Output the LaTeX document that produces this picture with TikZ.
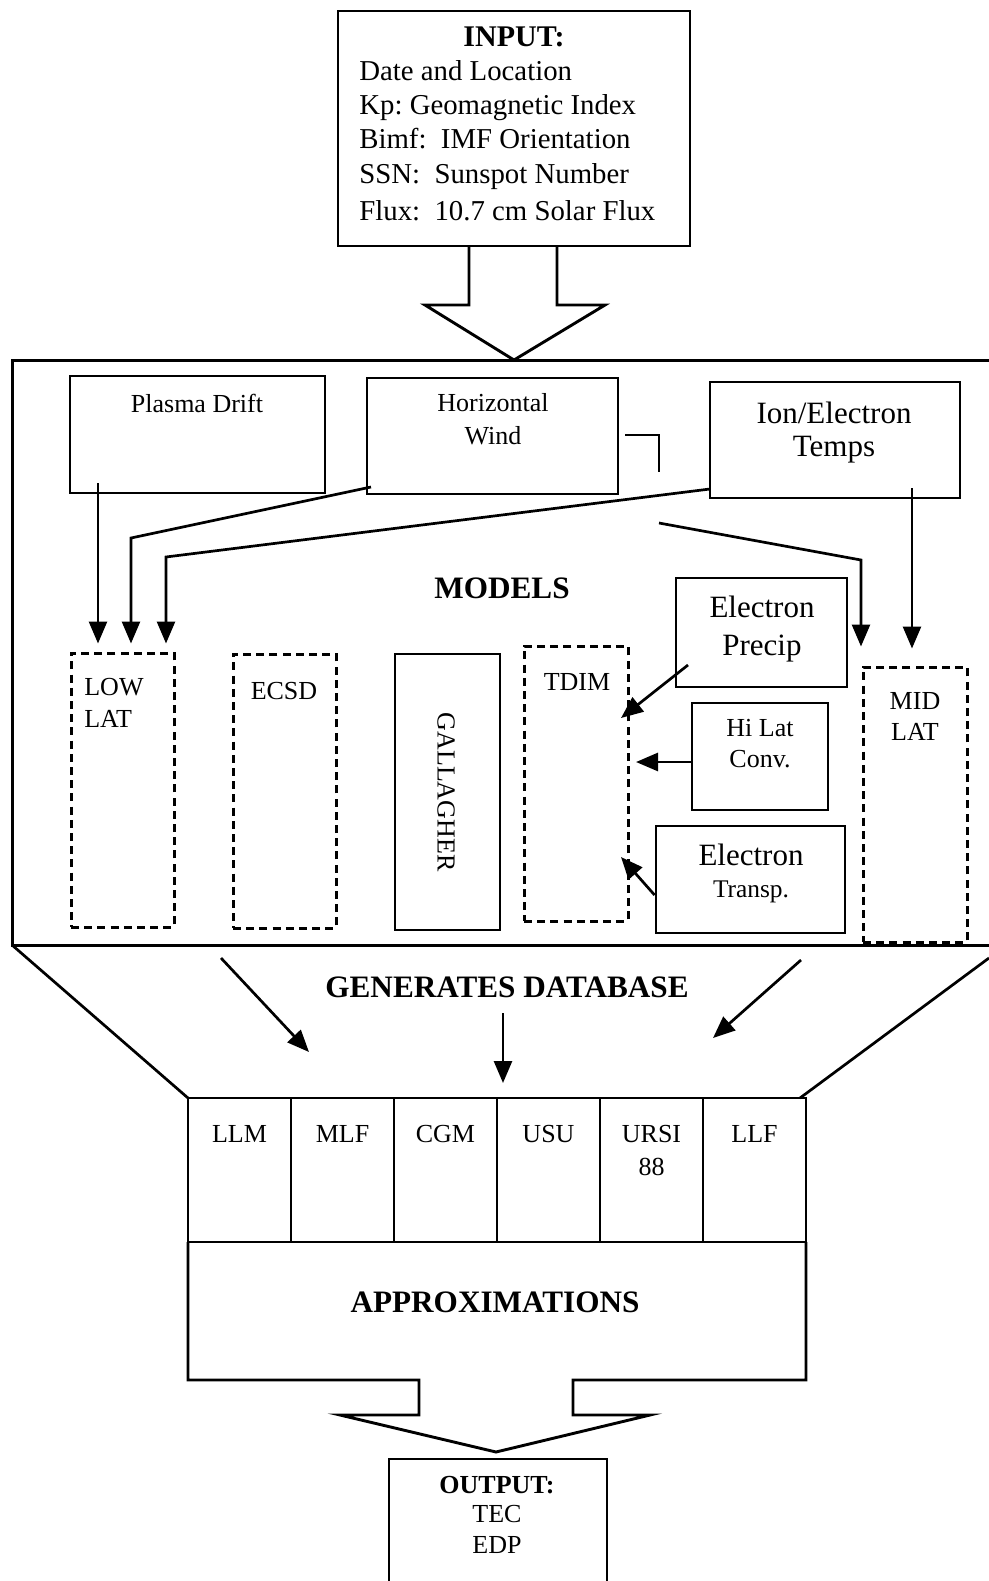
\documentclass[tikz,border=0pt]{standalone}
\usepackage{fontspec}
\setmainfont{Liberation Serif}
\usetikzlibrary{arrows.meta,fit,calc}
\frenchspacing
\begin{document}
\begin{tikzpicture}[x=0.5pt,y=-0.5pt, line width=1.35pt,
 sbox/.style={draw,line width=1.45pt,inner sep=0pt},
 dbox/.style={draw,line width=1.5pt,inner sep=0pt,dash pattern=on 4pt off 2.6pt},
 arr/.style={line width=1.35pt,-{Triangle[length=11pt,width=9pt]}},
 ts/.style={font=\fontsize{13}{15}\selectfont,inner sep=0pt,anchor=base},
 tsl/.style={font=\fontsize{13}{15}\selectfont,inner sep=0pt,anchor=base west},
 tm/.style={font=\fontsize{14.4}{17}\selectfont,inner sep=0pt,anchor=base west},
 tl/.style={font=\fontsize{15.5}{18}\selectfont,inner sep=0pt,anchor=base},
 tb/.style={font=\bfseries\fontsize{15.6}{18}\selectfont,inner sep=0pt,anchor=base},
 tbs/.style={font=\bfseries\fontsize{13}{15}\selectfont,inner sep=0pt,anchor=base},
]
\useasboundingbox (0,0) rectangle (989,1581);
\fill[white] (0,0) rectangle (989,1581);

% ---------- INPUT ----------
\node[sbox,fit={(338,11) (690,246)}] (input) {};
\node[tb,font=\bfseries\fontsize{15}{18}\selectfont] (inT) at (514,46) {INPUT:};
\node[tm] (in1) at (358,80) {Date and Location};
\node[tm] (in2) at (358,114) {Kp: Geomagnetic Index};
\node[tm] (in3) at (358,148) {Bimf:\ \ IMF Orientation};
\node[tm] (in4) at (358,183) {SSN:\ \ Sunspot Number};
\node[tm] (in5) at (358,220) {Flux:\ \ 10.7 cm Solar Flux};
\draw[line width=1.45pt] (469,246) -- (469,305) -- (425,305) -- (514,360) -- (605,305) -- (557,305) -- (557,246);

% ---------- MODELS frame ----------
\draw[line width=1.5pt] (989,360) -- (12,360) -- (12,945) -- (989,945);

\node[sbox,fit={(70,376) (325,493)}] (pd) {};
\node[ts] (pdT) at (197,412) {Plasma Drift};
\node[sbox,fit={(367,378) (618,494)}] (hw) {};
\node[ts] (hwT1) at (493,411) {Horizontal};
\node[ts] (hwT2) at (493,444) {Wind};
\node[sbox,fit={(710,382) (960,498)}] (iet) {};
\node[tl] (ietT1) at (834,423) {Ion/Electron};
\node[tl] (ietT2) at (834,456) {Temps};

\node[tb] (modT) at (502,598) {MODELS};

\node[sbox,fit={(676,578) (847,687)}] (ep) {};
\node[tl] (epT1) at (762,617) {Electron};
\node[tl] (epT2) at (762,655) {Precip};
\node[sbox,fit={(692,703) (828,810)}] (hlc) {};
\node[ts] (hlcT1) at (760,736) {Hi Lat};
\node[ts] (hlcT2) at (760,767) {Conv.};
\node[sbox,fit={(656,826) (845,933)}] (et) {};
\node[tl] (etT1) at (751,865) {Electron};
\node[ts,font=\fontsize{12.7}{15}\selectfont] (etT2) at (751,897) {Transp.};

\node[dbox,fit={(71,653) (174,927)}] (low) {};
\node[tsl] (lowT1) at (83,695) {LOW};
\node[tsl] (lowT2) at (83,727) {LAT};
\node[dbox,fit={(233,654) (336,928)}] (ecsd) {};
\node[ts] (ecsdT) at (284,699) {ECSD};
\node[sbox,fit={(395,654) (500,930)}] (gal) {};
\node[ts,anchor=center,rotate=-90] (galT) at (446,792) {GALLAGHER};
\node[dbox,fit={(524,646) (628,921)}] (tdim) {};
\node[ts] (tdimT) at (577,690) {TDIM};
\node[dbox,fit={(863,667) (967,942)}] (mid) {};
\node[ts] (midT1) at (915,709) {MID};
\node[ts] (midT2) at (915,740) {LAT};

% connectors in models
\coordinate (pdo) at (98,483);
\coordinate (hwo) at (371,487);
\coordinate (ieto) at (710,489);
\coordinate (brk) at (659,523);
\coordinate (ieto2) at (912,488);
\draw[arr] (pdo) -- ($(pdo |- low.north)+(0,-8)$);
\draw[arr] (hwo) -- (131,538) -- ($(131,0 |- low.north)+(0,-8)$);
\draw[arr] (ieto) -- (166,557) -- ($(166,0 |- low.north)+(0,-8)$);
\draw[arr] (brk) -- (861,560) -- ($(861,0 |- mid.north)+(0,-19)$);
\draw[arr] (ieto2) -- ($(ieto2 |- mid.north)+(0,-17)$);
\draw (625,435) -- (659,435) -- (659,472);
\coordinate (epo) at (688,665);
\draw[arr] (epo) -- (621,718);
\draw[arr] (hlc.west |- 0,762) -- (636,762);
\draw[arr] (et.west |- 0,895) -- (621,857);

% ---------- funnel ----------
\draw (12,945) -- (188,1098);
\draw (989,958) -- (800,1098);
\node[tb] (genT) at (507,997) {GENERATES DATABASE};
\coordinate (f1) at (221,958);
\coordinate (f2) at (503,1013);
\coordinate (f3) at (801,960);
\draw[arr] (f1) -- (309,1052);
\draw[arr] (f2) -- (503,1083);
\draw[arr] (f3) -- (713,1038);

% ---------- tabs ----------
\foreach \i/\t in {0/LLM,1/MLF,2/CGM,3/USU,5/LLF}{
  \node[sbox,fit={({188+103*\i},1098) ({291+103*\i},1242)}] (c\i) {};
  \node[ts] (c\i T) at ({239.5+103*\i},1142) {\t};
}
\node[sbox,fit={(600,1098) (703,1242)}] (c4) {};
\node[ts] (c4T1) at (651.5,1142) {URSI};
\node[ts] (c4T2) at (651.5,1175) {88};

% ---------- approximations ----------
\draw[line width=1.45pt] (188,1242) -- (188,1380) -- (419,1380) -- (419,1415) -- (340,1415) -- (496,1452) -- (650,1415) -- (573,1415) -- (573,1380) -- (806,1380) -- (806,1242);
\node[tb] (apT) at (495,1312) {APPROXIMATIONS};

% ---------- output ----------
\draw[line width=1.45pt] (389,1581) -- (389,1459) -- (607,1459) -- (607,1581);
\node[tbs] (outT) at (497,1493) {OUTPUT:};
\node[ts] (outT1) at (497,1522) {TEC};
\node[ts] (outT2) at (497,1553) {EDP};
\end{tikzpicture}
\end{document}
